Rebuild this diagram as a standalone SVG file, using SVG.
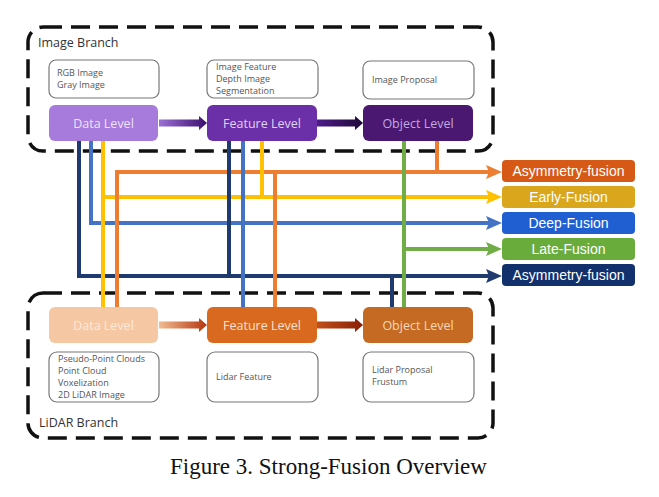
<svg xmlns="http://www.w3.org/2000/svg" width="659" height="497" viewBox="0 0 659 497">
<style>
.branch{fill:none;stroke:#111;stroke-width:3.5;stroke-dasharray:19 9}
.blabel{font-family:"Open Sans",sans-serif;font-size:12.5px;fill:#333}
.note{fill:#fff;stroke:#777;stroke-width:1.2}
.nt{font-family:"Open Sans",sans-serif;font-size:9px;fill:#555}
.lvl{font-family:"Open Sans",sans-serif;font-size:12.5px;text-anchor:middle}
.fus{font-family:"Liberation Sans",Arial,sans-serif;font-size:14px;fill:#fff;text-anchor:middle}
.ln{fill:none;stroke-width:4}
.cap{font-family:"Liberation Serif","Times New Roman",serif;font-size:23px;fill:#111}
</style>
<defs>
<linearGradient id="gp1" x1="0" x2="1" y1="0" y2="0"><stop offset="0" stop-color="#9C6FD6"/><stop offset="1" stop-color="#3B0F6E"/></linearGradient>
<linearGradient id="gp2" x1="0" x2="1" y1="0" y2="0"><stop offset="0" stop-color="#4E1C8A"/><stop offset="1" stop-color="#1E0838"/></linearGradient>
<linearGradient id="go1" x1="0" x2="1" y1="0" y2="0"><stop offset="0" stop-color="#F2BB92"/><stop offset="1" stop-color="#B5360E"/></linearGradient>
<linearGradient id="go2" x1="0" x2="1" y1="0" y2="0"><stop offset="0" stop-color="#C0501A"/><stop offset="1" stop-color="#8A1E06"/></linearGradient>
<marker id="mo" viewBox="0 0 16 14" markerWidth="16" markerHeight="14" markerUnits="userSpaceOnUse" refX="6" refY="7" orient="auto"><path d="M0,0 L16,7 L0,14 L3,7 Z" fill="#ED7D31"/></marker>
<marker id="my" viewBox="0 0 16 14" markerWidth="16" markerHeight="14" markerUnits="userSpaceOnUse" refX="6" refY="7" orient="auto"><path d="M0,0 L16,7 L0,14 L3,7 Z" fill="#FFC000"/></marker>
<marker id="mb" viewBox="0 0 16 14" markerWidth="16" markerHeight="14" markerUnits="userSpaceOnUse" refX="6" refY="7" orient="auto"><path d="M0,0 L16,7 L0,14 L3,7 Z" fill="#4472C4"/></marker>
<marker id="mg" viewBox="0 0 16 14" markerWidth="16" markerHeight="14" markerUnits="userSpaceOnUse" refX="6" refY="7" orient="auto"><path d="M0,0 L16,7 L0,14 L3,7 Z" fill="#70AD47"/></marker>
<marker id="mn" viewBox="0 0 16 14" markerWidth="16" markerHeight="14" markerUnits="userSpaceOnUse" refX="6" refY="7" orient="auto"><path d="M0,0 L16,7 L0,14 L3,7 Z" fill="#1F3A6E"/></marker>
</defs>
<rect width="659" height="497" fill="#fff"/>

<g id="image-branch">
<rect class="branch" x="28" y="27" width="465" height="124" rx="15"/>
<text class="blabel" x="38" y="47">Image Branch</text>
</g>
<g id="lidar-branch">
<rect class="branch" x="28" y="293" width="465" height="145" rx="15"/>
<text class="blabel" x="39" y="427">LiDAR Branch</text>
</g>

<g id="connectors">
<path class="ln" stroke="#ED7D31" d="M117,172 H492" marker-end="url(#mo)"/>
<path class="ln" stroke="#FFC000" d="M103,197 H492" marker-end="url(#my)"/>
<path class="ln" stroke="#4472C4" d="M91,223 H492" marker-end="url(#mb)"/>
<path class="ln" stroke="#70AD47" d="M404,249 H492" marker-end="url(#mg)"/>
<path class="ln" stroke="#1F3A6E" d="M79,276 H492" marker-end="url(#mn)"/>
<path class="ln" stroke="#1F3A6E" d="M79,141 V278"/>
<path class="ln" stroke="#4472C4" d="M91,141 V225"/>
<path class="ln" stroke="#FFC000" d="M103,141 V307"/>
<path class="ln" stroke="#ED7D31" d="M117,170 V307"/>
<path class="ln" stroke="#1F3A6E" d="M229,141 V278"/>
<path class="ln" stroke="#4472C4" d="M243,141 V307"/>
<path class="ln" stroke="#FFC000" d="M262,141 V199"/>
<path class="ln" stroke="#ED7D31" d="M275,170 V307"/>
<path class="ln" stroke="#1F3A6E" d="M392,274 V307"/>
<path class="ln" stroke="#70AD47" d="M404,141 V307"/>
<path class="ln" stroke="#ED7D31" d="M437,141 V174"/>
<path fill="url(#gp1)" d="M159,119.5 H199 V116 L207,123 L199,130 V126.5 H159 Z"/>
<path fill="url(#gp2)" d="M317,119.5 H355 V116 L363,123 L355,130 V126.5 H317 Z"/>
<path fill="url(#go1)" d="M159,321.5 H199 V318 L207,325 L199,332 V328.5 H159 Z"/>
<path fill="url(#go2)" d="M317,321.5 H355 V318 L363,325 L355,332 V328.5 H317 Z"/>
</g>

<g id="img-data-note"><rect class="note" x="49" y="60" width="110" height="38" rx="7"/><text class="nt" x="57" y="76">RGB Image</text><text class="nt" x="57" y="88">Gray Image</text></g>
<g id="img-feature-note"><rect class="note" x="207" y="60" width="111" height="38" rx="7"/><text class="nt" x="216" y="70">Image Feature</text><text class="nt" x="216" y="82">Depth Image</text><text class="nt" x="216" y="94">Segmentation</text></g>
<g id="img-object-note"><rect class="note" x="363" y="61" width="111" height="38" rx="7"/><text class="nt" x="372" y="83">Image Proposal</text></g>

<g id="img-data"><rect x="49" y="105" width="109" height="36" rx="6" fill="#A77BDB"/><text class="lvl" x="103.5" y="127.5" fill="#EEE2FA">Data Level</text></g>
<g id="img-feature"><rect x="207" y="105" width="110" height="36" rx="6" fill="#6B30A8"/><text class="lvl" x="262" y="127.5" fill="#E2D2F4">Feature Level</text></g>
<g id="img-object"><rect x="363" y="105" width="110" height="36" rx="6" fill="#4A1870"/><text class="lvl" x="418" y="127.5" fill="#C0A8E0">Object Level</text></g>

<g id="lidar-data"><rect x="49" y="307" width="109" height="36" rx="6" fill="#F5C7A2"/><text class="lvl" x="103.5" y="329.5" fill="#FCE9DA">Data Level</text></g>
<g id="lidar-feature"><rect x="207" y="307" width="110" height="36" rx="6" fill="#D8691F"/><text class="lvl" x="262" y="329.5" fill="#FCE2CE">Feature Level</text></g>
<g id="lidar-object"><rect x="363" y="307" width="110" height="36" rx="6" fill="#C56A22"/><text class="lvl" x="418" y="329.5" fill="#F7D6B8">Object Level</text></g>

<g id="lidar-data-note"><rect class="note" x="49" y="352" width="110" height="50" rx="8"/><text class="nt" x="58" y="362">Pseudo-Point Clouds</text><text class="nt" x="58" y="374">Point Cloud</text><text class="nt" x="58" y="386">Voxelization</text><text class="nt" x="58" y="398">2D LiDAR Image</text></g>
<g id="lidar-feature-note"><rect class="note" x="207" y="352" width="111" height="50" rx="8"/><text class="nt" x="216" y="380">Lidar Feature</text></g>
<g id="lidar-object-note"><rect class="note" x="363" y="352" width="111" height="50" rx="8"/><text class="nt" x="372" y="373">Lidar Proposal</text><text class="nt" x="372" y="385">Frustum</text></g>

<g id="asym1"><rect x="502" y="160" width="133" height="22" rx="4" fill="#D65A16"/><text class="fus" x="568.5" y="176">Asymmetry-fusion</text></g>
<g id="early"><rect x="502" y="186" width="133" height="22" rx="4" fill="#DAA61C"/><text class="fus" x="568.5" y="202">Early-Fusion</text></g>
<g id="deep"><rect x="502" y="212" width="133" height="22" rx="4" fill="#1F5FD2"/><text class="fus" x="568.5" y="228">Deep-Fusion</text></g>
<g id="late"><rect x="502" y="238" width="133" height="22" rx="4" fill="#6AAC3C"/><text class="fus" x="568.5" y="254">Late-Fusion</text></g>
<g id="asym2"><rect x="502" y="264" width="133" height="22" rx="4" fill="#12306C"/><text class="fus" x="568.5" y="280">Asymmetry-fusion</text></g>

<text class="cap" x="170" y="474">Figure 3. Strong-Fusion Overview</text>
</svg>
